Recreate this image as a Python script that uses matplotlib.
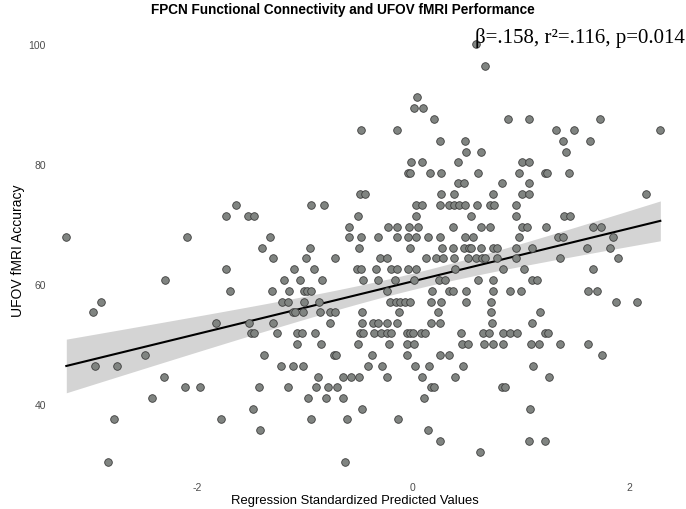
import numpy as np
import matplotlib.pyplot as plt

plt.rcParams['font.family'] = ['Liberation Sans', 'DejaVu Sans']
plt.rcParams['axes.unicode_minus'] = False

# accuracy levels (% correct) and the predicted values of the points on each level
acc_levels = [100.0, 96.4, 91.1, 89.3, 87.5, 85.7, 83.9, 82.1, 80.4, 78.6,
              76.8, 75.0, 73.2, 71.4, 69.6, 67.9, 66.1, 64.3, 62.5, 60.7,
              58.9, 57.1, 55.4, 53.6, 51.8, 50.0, 48.2, 46.4, 44.6, 42.9,
              41.1, 39.3, 37.5, 35.7, 33.9, 32.1, 30.4]

pred_rows = [
    [0.58],
    [0.67],
    [0.04],
    [0.01, 0.09],
    [0.19, 0.88, 1.07, 1.73],
    [-0.48, -0.15, 1.32, 1.49, 2.29],
    [0.25, 0.48, 1.39, 1.64],
    [0.49, 0.63, 1.42],
    [-0.02, 0.08, 0.42, 1.01, 1.07],
    [-0.05, -0.03, 0.16, 0.26, 0.60, 0.98, 1.22, 1.24, 1.44],
    [0.42, 0.47, 0.82, 1.07],
    [-0.49, -0.44, 0.26, 0.38, 0.74, 1.01, 1.07, 2.16],
    [-1.64, -0.94, -0.82, 0.03, 0.08, 0.25, 0.33, 0.38, 0.43, 0.48, 0.59, 0.71, 0.75, 0.95],
    [-1.73, -1.53, -1.47, -0.51, 0.03, 0.54, 0.95, 1.40, 1.45],
    [-0.59, -0.23, -0.15, -0.04, 0.05, 0.37, 0.63, 0.71, 1.01, 1.06, 1.23, 1.67, 1.74],
    [-3.21, -2.09, -1.32, -0.59, -0.48, -0.32, -0.15, -0.05, 0.03, 0.14, 0.25, 0.48, 0.56,
     0.98, 1.34, 1.39, 1.85],
    [-1.40, -0.95, -0.50, -0.03, 0.27, 0.37, 0.47, 0.52, 0.54, 0.63, 0.74, 0.78, 0.95, 1.10,
     1.61, 1.82],
    [-1.30, -0.99, -0.72, -0.31, -0.24, 0.12, 0.21, 0.28, 0.38, 0.51, 0.58, 0.64, 0.67, 0.78,
     0.95, 1.36, 1.90],
    [-1.73, -1.10, -0.92, -0.52, -0.48, -0.34, -0.20, -0.15, -0.05, 0.03, 0.39, 0.83, 1.03, 1.67],
    [-2.30, -1.19, -1.05, -0.84, -0.46, -0.32, -0.17, 0.01, 0.24, 0.30, 0.60, 0.74, 1.10, 1.15],
    [-1.69, -1.31, -1.15, -1.01, -0.98, -0.94, -0.24, 0.18, 0.33, 0.37, 0.49, 0.74, 0.90, 1.00,
     1.62, 1.70],
    [-2.89, -1.21, -1.16, -1.01, -0.87, -0.21, -0.16, -0.12, -0.07, -0.03, 0.17, 0.26, 0.49,
     0.72, 1.88, 2.07],
    [-2.96, -1.11, -1.09, -1.02, -0.86, -0.77, -0.72, -0.47, -0.13, 0.23, 0.72, 1.18],
    [-1.82, -1.52, -1.30, -0.77, -0.47, -0.37, -0.32, -0.24, -0.15, 0.17, 0.25, 0.73, 1.10],
    [-1.50, -1.47, -1.26, -1.07, -1.03, -0.91, -0.49, -0.46, -0.36, -0.30, -0.24, -0.20, -0.06,
     -0.03, 0.00, 0.07, 0.11, 0.44, 0.65, 0.70, 0.83, 0.90, 0.96, 1.22, 1.25],
    [-1.07, -0.85, -0.51, -0.22, -0.06, 0.01, 0.45, 0.51, 0.66, 0.74, 0.83, 1.09, 1.17, 1.36, 1.62],
    [-2.48, -1.38, -0.73, -0.71, -0.38, -0.06, 0.25, 0.33, 1.75],
    [-2.94, -2.74, -1.22, -1.11, -1.02, -0.42, -0.29, 0.02, 0.15, 0.46, 1.11],
    [-2.31, -0.88, -0.65, -0.57, -0.50, -0.24, 0.08, 0.39, 1.26],
    [-2.11, -1.97, -1.43, -1.16, -0.90, -0.79, -0.70, 0.17, 0.19, 0.82, 0.85],
    [-2.42, -0.97, -0.81, -0.65, 0.10],
    [-1.48, -0.47, 1.08],
    [-2.77, -1.78, -0.94, -0.61, -0.14],
    [-1.42, 0.14],
    [0.25, 1.07, 1.22],
    [0.62],
    [-2.82, -0.63],
]

title = 'FPCN Functional Connectivity and UFOV fMRI Performance'
stats_label = 'β=.158, r²=.116, p=0.014'

x = np.array([v for row in pred_rows for v in row])
y = np.array([a for a, row in zip(acc_levels, pred_rows) for _ in row])

# linear fit with 95% confidence band
n = len(x)
slope, intercept = np.polyfit(x, y, 1)
resid = y - (intercept + slope * x)
s = np.sqrt(np.sum(resid ** 2) / (n - 2))
sxx = np.sum((x - x.mean()) ** 2)
xs = np.linspace(x.min(), x.max(), 100)
fit = intercept + slope * xs
se = s * np.sqrt(1 / n + (xs - x.mean()) ** 2 / sxx)
t = 1.967

fig = plt.figure(figsize=(6.86, 5.10), dpi=100)
ax = fig.add_axes([50 / 686, 1 - 484 / 510, 629 / 686, 460 / 510])

ax.fill_between(xs, fit - t * se, fit + t * se, color='#d4d4d4', lw=0, zorder=1)
ax.plot(xs, fit, color='black', lw=1.5, zorder=2)
ax.scatter(x, y, s=30, color='#808481', edgecolor='#3c3c3c', linewidth=0.6, zorder=3)

ax.set_xlim(-3.361, 2.463)
ax.set_ylim(26.9, 103.5)
ax.set_xticks([-2, 0, 2])
ax.set_yticks([40, 60, 80, 100])
ax.tick_params(length=0, labelsize=7.5, labelcolor='#4d4d4d')
ax.tick_params(axis='x', pad=-1)
ax.tick_params(axis='y', pad=3)
for sp in ax.spines.values():
    sp.set_visible(False)

fig.text(0.5, 1 - 10 / 510, title, ha='center', va='center', fontsize=9.8, fontweight='bold')
fig.text(355 / 686, 1 - 501 / 510, 'Regression Standardized Predicted Values',
         ha='center', va='center', fontsize=9.4)
fig.text(18 / 686, 1 - 251 / 510, 'UFOV fMRI Accuracy', ha='center', va='center',
         rotation=90, fontsize=10)
fig.text(685 / 686, 1 - 38 / 510, stats_label, ha='right', va='center', fontsize=15,
         family=['Liberation Serif', 'DejaVu Serif'])

fig.savefig('out.png', dpi=100)
